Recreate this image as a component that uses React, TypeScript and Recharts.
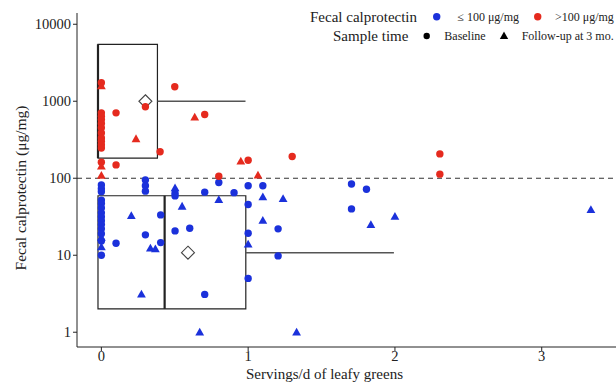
import {
  ComposedChart,
  Scatter,
  XAxis,
  YAxis,
  ReferenceArea,
  ReferenceLine,
} from 'recharts'

const BLUE = '#1b31db'
const RED = '#e52a1e'
const INK = '#222'
const FONT = '"Liberation Serif", "DejaVu Serif", serif'

// [servings/d, fecal calprotectin µg/mg]
const lowBaseline: [number, number][] = [
  [0, 82], [0, 73], [0, 67], [0, 52], [0, 47], [0, 41], [0, 35.5], [0, 31.5],
  [0, 28], [0, 25], [0, 22], [0, 19], [0, 15.3], [0, 10],
  [0.1, 14.3], [0.3, 95], [0.3, 80], [0.3, 68], [0.3, 18.4], [0.404, 14.6],
  [0.404, 33.4], [0.502, 64], [0.502, 59], [0.502, 20.7], [0.602, 22.4],
  [0.704, 3.1], [0.704, 66], [0.8, 88], [0.904, 65], [1.0, 80], [1.0, 45.6],
  [1.0, 19.3], [1.0, 5.0], [1.1, 80], [1.204, 22], [1.204, 9.8],
  [1.704, 84], [1.806, 72], [1.704, 40],
]
const lowFollowUp: [number, number][] = [
  [0, 12.8], [0, 17], [0.204, 32.5], [0.273, 3.1], [0.334, 12.3], [0.368, 12],
  [0.502, 74.6], [0.55, 43], [0.67, 1], [0.8, 52.5], [1.0, 13.9], [1.1, 57],
  [1.1, 28.2], [1.238, 54], [1.33, 1], [1.836, 24.8], [2.0, 31.8], [3.335, 38.9],
]
const highBaseline: [number, number][] = [
  [0, 1740], [0, 707], [0, 638], [0, 578], [0, 513], [0, 451], [0, 388],
  [0, 334], [0, 302], [0, 273], [0, 247], [0, 161],
  [0.1, 707], [0.3, 847], [0.4, 221], [0.1, 149], [0.5, 1543], [0.704, 672],
  [1.0, 171], [1.3, 192], [0.8, 106], [2.306, 207], [2.306, 113],
]
const highFollowUp: [number, number][] = [
  [0, 1570], [0, 143], [0, 108], [0.236, 324], [0.636, 620], [0.95, 166], [1.067, 109],
]

// boxes: [xMin(Q1), median, xMax(Q3), yLow, yHigh, whiskerEnd, whiskerY, mean]
const highBox = [-0.023, -0.023, 0.382, 183, 5490, 0.982, 1000, 0.3]
const lowBox = [-0.023, 0.431, 0.984, 2.01, 59.2, 1.993, 10.8, 0.59]

const xTicks = [0, 1, 2, 3]
const yTicks = [1, 10, 100, 1000, 10000]

const toPts = (arr: [number, number][]) => arr.map(([x, y]) => ({ x, y }))

const Dot = (color: string) => (p: any) => (
  <circle cx={p.cx} cy={p.cy} r={3.7} fill={color} />
)
const Tri = (color: string) => (p: any) => (
  <polygon
    points={`${p.cx},${p.cy - 4.6} ${p.cx - 4.4},${p.cy + 3.2} ${p.cx + 4.4},${p.cy + 3.2}`}
    fill={color}
  />
)
const Diamond = (p: any) => (
  <polygon
    points={`${p.cx},${p.cy - 6.5} ${p.cx + 6.5},${p.cy} ${p.cx},${p.cy + 6.5} ${p.cx - 6.5},${p.cy}`}
    fill="white"
    stroke="#444"
    strokeWidth={1.1}
  />
)

function boxParts(b: number[], key: string) {
  const [q1, med, q3, lo, hi, wEnd, wY] = b
  return [
    <ReferenceArea key={key + 'a'} x1={q1} x2={q3} y1={lo} y2={hi} fill="none" fillOpacity={0} stroke={INK} strokeWidth={1.2} strokeOpacity={1} />,
    <ReferenceLine key={key + 'm'} segment={[{ x: med, y: lo }, { x: med, y: hi }]} stroke={INK} strokeWidth={2.2} />,
    <ReferenceLine key={key + 'w'} segment={[{ x: q3, y: wY }, { x: wEnd, y: wY }]} stroke="#555" strokeWidth={1.5} />,
  ]
}

export default function App() {
  const tick = { fontSize: 14.5, fill: INK, fontFamily: FONT }
  return (
    <div style={{ position: 'absolute', left: 0, top: 0, width: 616, height: 382, background: '#fff', fontFamily: FONT }}>
      <ComposedChart width={616} height={382} margin={{ top: 13, right: 0, bottom: 0, left: 0 }}>
        <XAxis
          type="number"
          dataKey="x"
          domain={[-0.166, 3.506]}
          allowDataOverflow
          ticks={xTicks}
          tick={tick}
          tickSize={4}
          tickMargin={0}
          height={35}
          stroke={INK}
        />
        <YAxis
          type="number"
          dataKey="y"
          scale="log"
          domain={[0.643, 14000]}
          allowDataOverflow
          ticks={yTicks}
          tick={tick}
          tickSize={4}
          tickMargin={2}
          width={77}
          stroke={INK}
        />
        <ReferenceLine y={100} stroke="#333" strokeDasharray="5 4" strokeWidth={1.2} />
        {boxParts(highBox, 'h')}
        {boxParts(lowBox, 'l')}
        <Scatter data={toPts(lowBaseline)} shape={Dot(BLUE)} isAnimationActive={false} />
        <Scatter data={toPts(lowFollowUp)} shape={Tri(BLUE)} isAnimationActive={false} />
        <Scatter data={[{ x: highBox[7], y: highBox[6] }, { x: lowBox[7], y: lowBox[6] }]} shape={Diamond} isAnimationActive={false} />
        <Scatter data={toPts(highBaseline)} shape={Dot(RED)} isAnimationActive={false} />
        <Scatter data={toPts(highFollowUp)} shape={Tri(RED)} isAnimationActive={false} />
      </ComposedChart>
      <svg width={616} height={382} style={{ position: 'absolute', left: 0, top: 0, pointerEvents: 'none' }}>
        <text x={20} y={188} transform="rotate(-90 20 188)" textAnchor="middle" dominantBaseline="central" fontSize={15.5} fill={INK}>
          Fecal calprotectin (μg/mg)
        </text>
        <text x={324.5} y={378.5} textAnchor="middle" fontSize={15} fill={INK}>
          Servings/d of leafy greens
        </text>
        <text x={310} y={21.7} fontSize={15} fill={INK}>Fecal calprotectin</text>
        <circle cx={436.7} cy={16.7} r={3.7} fill={BLUE} />
        <text x={457.3} y={21} fontSize={12} fill={INK}>≤ 100 μg/mg</text>
        <circle cx={537.7} cy={16.7} r={3.7} fill={RED} />
        <text x={555} y={21} fontSize={12} fill={INK}>&gt;100 μg/mg</text>
        <text x={333} y={41} fontSize={15} fill={INK}>Sample time</text>
        <circle cx={426.7} cy={36} r={3.2} fill="#000" />
        <text x={444.3} y={40} fontSize={12} fill={INK}>Baseline</text>
        <polygon points="504,31.5 499.8,39 508.2,39" fill="#000" />
        <text x={521.7} y={40} fontSize={12} fill={INK}>Follow-up at 3 mo.</text>
      </svg>
    </div>
  )
}
